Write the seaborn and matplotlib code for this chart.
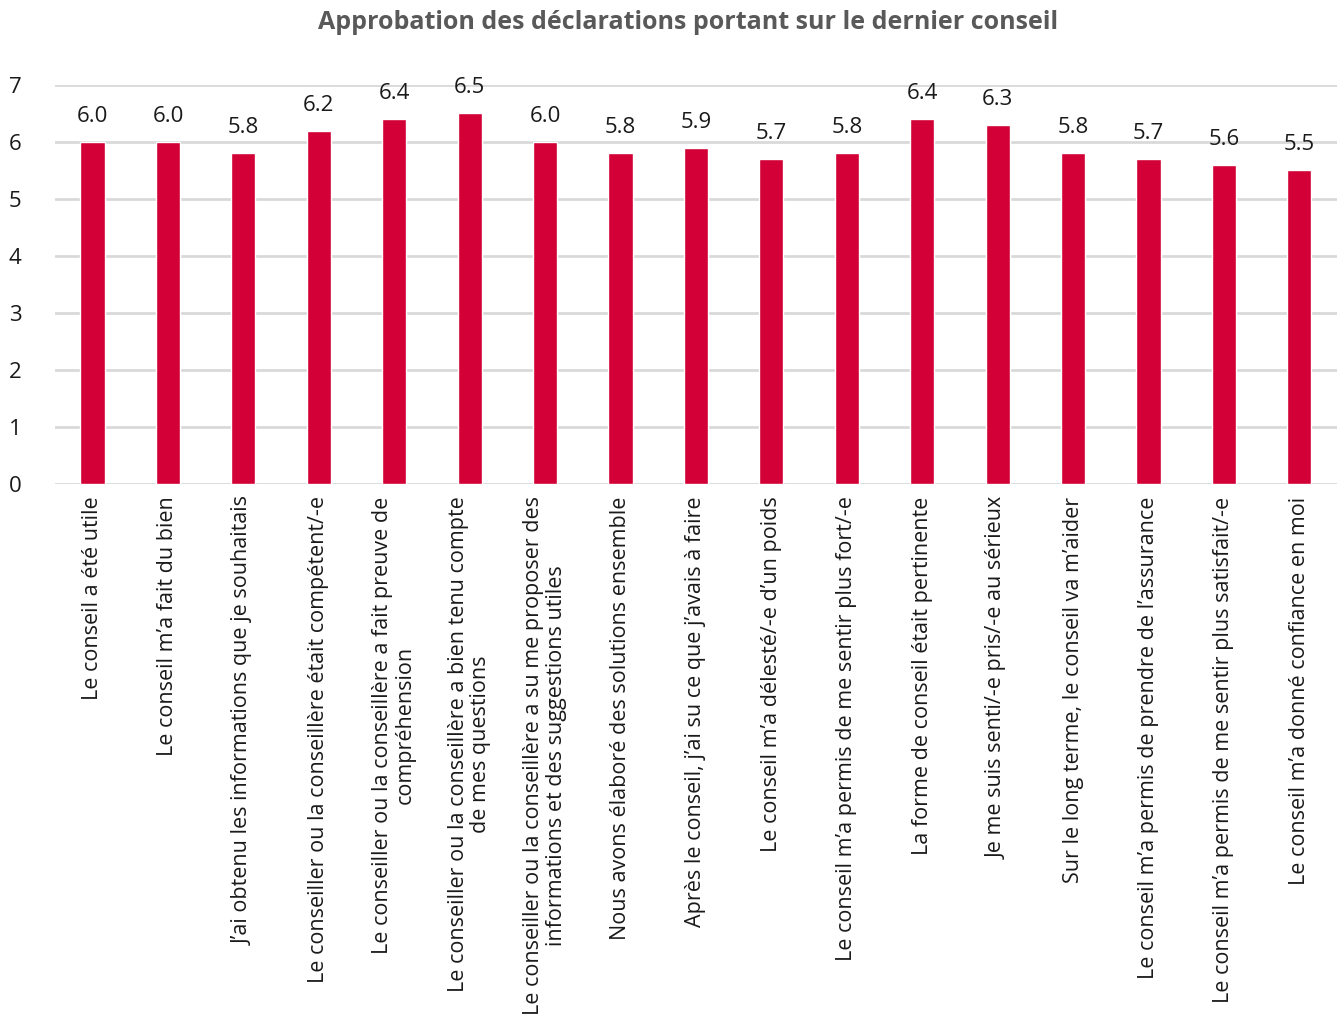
import matplotlib
matplotlib.use("Agg")
import matplotlib.pyplot as plt
import seaborn as sns
import pandas as pd

statements = [
    "Le conseil a été utile",
    "Le conseil m’a fait du bien",
    "J’ai obtenu les informations que je souhaitais",
    "Le conseiller ou la conseillère était compétent/-e",
    "Le conseiller ou la conseillère a fait preuve de\ncompréhension",
    "Le conseiller ou la conseillère a bien tenu compte\nde mes questions",
    "Le conseiller ou la conseillère a su me proposer des\ninformations et des suggestions utiles",
    "Nous avons élaboré des solutions ensemble",
    "Après le conseil, j’ai su ce que j’avais à faire",
    "Le conseil m’a délesté/-e d’un poids",
    "Le conseil m’a permis de me sentir plus fort/-e",
    "La forme de conseil était pertinente",
    "Je me suis senti/-e pris/-e au sérieux",
    "Sur le long terme, le conseil va m’aider",
    "Le conseil m’a permis de prendre de l’assurance",
    "Le conseil m’a permis de me sentir plus satisfait/-e",
    "Le conseil m’a donné confiance en moi",
]
scores = [6.0, 6.0, 5.8, 6.2, 6.4, 6.5, 6.0, 5.8, 5.9, 5.7, 5.8, 6.4, 6.3, 5.8, 5.7, 5.6, 5.5]
y_ticks = [0, 1, 2, 3, 4, 5, 6, 7]

df = pd.DataFrame({"statement": statements, "score": scores})

sns.set_theme(style="white")
plt.rcParams["font.family"] = ["Open Sans", "DejaVu Sans"]

BAR = "#D20036"
GRID = "#D9D9D9"
TEXT = "#1a1a1a"

fig = plt.figure(figsize=(13.37, 10.23), dpi=100)
ax = fig.add_axes([0.041, 0.527, 0.959, 0.390])

sns.barplot(data=df, x="statement", y="score", color=BAR, saturation=1,
            width=0.32, ax=ax, zorder=3)

ax.set_ylim(0, 7)
ax.set_xlim(-0.5, len(statements) - 0.5)
ax.set_yticks(y_ticks)
ax.yaxis.grid(True, color=GRID, linewidth=2, zorder=0)
ax.set_axisbelow(True)
for s in ax.spines.values():
    s.set_visible(False)
ax.tick_params(axis="y", length=0, pad=24, labelsize=16, labelcolor=TEXT)
ax.tick_params(axis="x", length=0, pad=9, labelsize=15.5, labelcolor=TEXT)
ax.set_xlabel("")
ax.set_ylabel("")
ax.set_xticks(range(len(statements)))
ax.set_xticklabels(statements, rotation=90, ha="center", va="top",
                   multialignment="center", linespacing=1.1)

for patch, v in zip(ax.patches, scores):
    ax.annotate(f"{v:.1f}", (patch.get_x() + patch.get_width() / 2, v),
                xytext=(0, 15), textcoords="offset pixels",
                ha="center", va="bottom", fontsize=16, color=TEXT)

fig.suptitle("Approbation des déclarations portant sur le dernier conseil",
             x=0.515, y=0.99, fontsize=18, fontweight="bold", color="#595959")

fig.savefig("out.png", dpi=100)
